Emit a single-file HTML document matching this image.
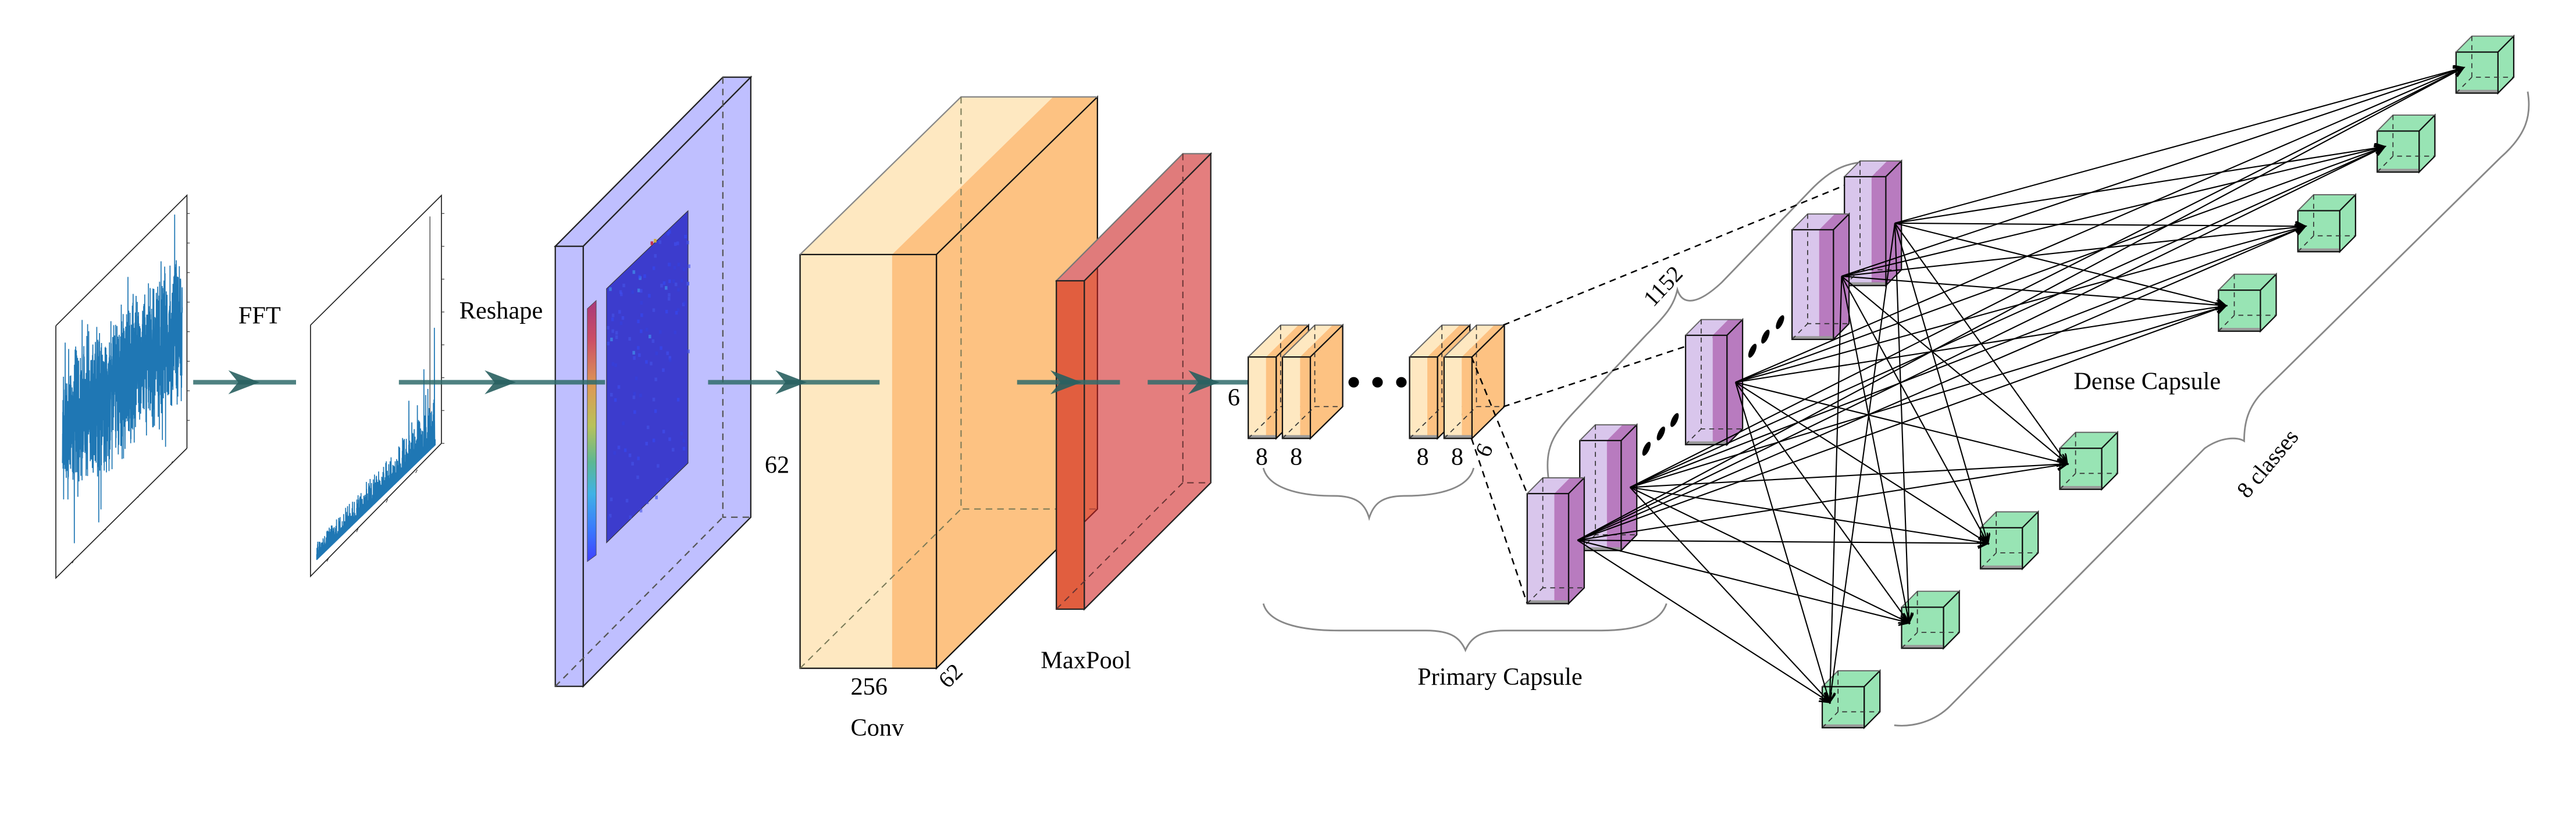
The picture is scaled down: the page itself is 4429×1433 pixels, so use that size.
<!DOCTYPE html>
<html><head><meta charset="utf-8"><style>
html,body{margin:0;padding:0;background:#fff;}
svg{display:block;}
text{font-family:"Liberation Serif",serif;fill:#000;}
</style></head><body>
<svg id="s" xmlns="http://www.w3.org/2000/svg" width="4429" height="1433" viewBox="0 0 1568 507.3" font-family="Liberation Serif, serif">
<defs>
<linearGradient id="cb" x1="0" y1="0" x2="0" y2="1">
<stop offset="0" stop-color="#a8387a"/><stop offset="0.15" stop-color="#cc4e66"/>
<stop offset="0.33" stop-color="#dd9a55"/><stop offset="0.48" stop-color="#b8c25a"/>
<stop offset="0.62" stop-color="#5cb894"/><stop offset="0.74" stop-color="#3fb2e6"/>
<stop offset="0.88" stop-color="#3a78ff"/><stop offset="1" stop-color="#4040ff"/>
</linearGradient>
<marker id="ah" markerUnits="userSpaceOnUse" markerWidth="10" markerHeight="10" refX="6" refY="3" orient="auto">
<path d="M0,0 L6,3 L0,6 M1.5,3 L6,3" fill="none" stroke="#000" stroke-width="1"/>
</marker>
</defs>
<rect width="1568" height="507.3" fill="#fff"/>

<!-- plot 1 -->
<g fill="none" stroke="#222" stroke-width="0.6">
<polyline points="34,198.4 34,352 113.8,273"/>
<polyline points="34,198.4 113.8,118.9 113.8,273"/>
</g>
<path id="sig1" fill="none" stroke="#1f77b4" stroke-width="0.6"/>
<!-- plot 2 -->
<g fill="none" stroke="#222" stroke-width="0.6">
<polyline points="189,198 189,351 268.7,270"/>
<polyline points="189,198 268.7,119 268.7,270"/>
<line x1="261.7" y1="131.8" x2="261.7" y2="270" stroke-width="0.4"/>
</g>
<path id="sig2" fill="none" stroke="#1f77b4" stroke-width="0.6"/>
<g id="ticks" stroke="#333" stroke-width="0.4"></g>

<text x="158" y="197" font-size="15" text-anchor="middle">FFT</text>
<text x="305" y="194" font-size="15" text-anchor="middle">Reshape</text>

<!-- blue slab -->
<g stroke="#222" stroke-width="0.8">
<polygon points="338,150 440,47 457,47 355,150" fill="#bfbfff"/>
<polygon points="355,150 457,47 457,315 355,418" fill="#bfbfff"/>
<rect x="338" y="150" width="17" height="268" fill="#bfbfff"/>
</g>
<polygon points="369.2,175.8 418.8,128.4 418.8,282 369.2,330.5" fill="#3c3ccd" stroke="#333" stroke-width="0.4"/>
<g id="hm"></g>
<polygon points="357.5,188 362.9,183 362.9,338 357.5,342" fill="url(#cb)" stroke="#444" stroke-width="0.3"/>
<g fill="none" stroke="#555" stroke-width="0.8" stroke-dasharray="4,3">
<polyline points="440,47 440,315 457,315"/><line x1="338" y1="418" x2="440" y2="315"/>
</g>

<!-- conv -->
<g stroke-width="0.8">
<polygon points="487,155 585,59 641,59 543,155" fill="#fee8c1" stroke="none"/>
<polygon points="543,155 641,59 668,59 570,155" fill="#fdc282" stroke="none"/>
<polygon points="570,155 668,59 668,310 570,407" fill="#fdc282" stroke="#111"/>
<rect x="487" y="155" width="56" height="252" fill="#fee8c1"/>
<rect x="543" y="155" width="27" height="252" fill="#fdc282"/>
<rect x="487" y="155" width="83" height="252" fill="none" stroke="#111"/>
<polyline points="487,155 585,59 668,59" fill="none" stroke="#888"/>
</g>
<g fill="none" stroke="#775" stroke-width="0.7" stroke-dasharray="4,3">
<polyline points="585,59 585,310 668,310"/><line x1="487" y1="407" x2="585" y2="310"/>
</g>
<text x="473" y="288" font-size="15" text-anchor="middle">62</text>
<text x="529" y="423" font-size="15" text-anchor="middle">256</text>
<text x="579" y="416" font-size="14" text-anchor="middle" transform="rotate(-45 579 412)">62</text>
<text x="534" y="448" font-size="15" text-anchor="middle">Conv</text>

<!-- maxpool -->
<g stroke-width="0.8">
<polygon points="643,171 720,93.6 737,93.6 660,171" fill="#e07b7b" stroke="#777"/>
<polygon points="660,171 737,93.6 737,294 660,371" fill="rgb(210,40,40)" fill-opacity="0.6" stroke="#222"/>
<rect x="643" y="171" width="17" height="200" fill="#e15e3f" stroke="#222"/>
</g>
<g fill="none" stroke="#633" stroke-width="0.7" stroke-dasharray="4,3">
<polyline points="720,93.6 720,294 737,294"/><line x1="643" y1="371" x2="720" y2="294"/>
</g>
<text x="661" y="407" font-size="15" text-anchor="middle">MaxPool</text>

<g id="arrows"></g>

<g id="obox"></g>
<circle cx="824" cy="232.8" r="3.2"/><circle cx="838.5" cy="232.8" r="3.2"/><circle cx="853" cy="232.8" r="3.2"/>
<text x="751" y="247" font-size="15" text-anchor="middle">6</text>
<text x="768" y="283" font-size="15" text-anchor="middle">8</text>
<text x="789" y="283" font-size="15" text-anchor="middle">8</text>
<text x="866" y="283" font-size="15" text-anchor="middle">8</text>
<text x="887" y="283" font-size="15" text-anchor="middle">8</text>
<text x="903" y="279" font-size="14" text-anchor="middle" transform="rotate(-65 903 274)">6</text>
<g fill="none" stroke="#888" stroke-width="1">
<path d="M769,285 C772,297 790,302 812,302 C826,302 831,307 833.4,315.5 C836,307 841,302 855,302 C877,302 894,297 897,285"/>
<path d="M769,367.6 C772,379 790,384 815,384 L868,384 C884,384 889,389 892,396 C895,389 900,384 916,384 L975,384 C998,384 1011,378 1014.4,367.6"/>
<path d="M942.6,291.9 C940,272 946,264 958,251 L1002,204 C1014,192 1019,186 1021,176.4 C1024,186 1033,186 1048,172 L1100,118 C1112,105 1122,99 1136.3,98.6"/>
<path d="M1538.6,55.8 C1541,70 1538,82 1522,96 L1378,238 C1368,248 1366,258 1366,268.6 C1362,266 1352,266 1342,273 L1187,430 C1178,439 1165,443 1153,441.7"/>
</g>
<text x="913" y="417" font-size="15" text-anchor="middle">Primary Capsule</text>
<text x="1307" y="237" font-size="15" text-anchor="middle">Dense Capsule</text>
<text x="1012" y="179" font-size="14" text-anchor="middle" transform="rotate(-47 1012 174)">1152</text>
<text x="1380" y="287" font-size="14" text-anchor="middle" transform="rotate(-50 1380 282)">8 classes</text>

<g fill="none" stroke="#000" stroke-width="0.9" stroke-dasharray="4,3">
<line x1="915" y1="198" x2="1149.8" y2="101.8"/>
<line x1="915" y1="247.7" x2="1044" y2="205"/>
<line x1="895.7" y1="217.4" x2="929.6" y2="300.6"/>
<line x1="895.7" y1="267" x2="929.6" y2="367.6"/>
</g>

<g id="caps"></g>
<g id="dots">
<ellipse cx="1002.2" cy="273.3" rx="1.8" ry="4.6" transform="rotate(25 1002.2 273.3)"/>
<ellipse cx="1011" cy="264" rx="1.8" ry="4.6" transform="rotate(25 1011 264)"/>
<ellipse cx="1019.3" cy="255.8" rx="1.8" ry="4.6" transform="rotate(25 1019.3 255.8)"/>
<ellipse cx="1066.7" cy="213.6" rx="1.8" ry="4.6" transform="rotate(25 1066.7 213.6)"/>
<ellipse cx="1074.6" cy="205" rx="1.8" ry="4.6" transform="rotate(25 1074.6 205)"/>
<ellipse cx="1083.5" cy="196.2" rx="1.8" ry="4.6" transform="rotate(25 1083.5 196.2)"/>
</g>
<g id="cubes"></g>
<g id="lines" stroke="#000" stroke-width="0.75" fill="none"></g>
</svg>
<script>
var NS="http://www.w3.org/2000/svg";
function el(p,t,a){var e=document.createElementNS(NS,t);for(var k in a)e.setAttribute(k,a[k]);p.appendChild(e);return e;}
var seed=12345;function rnd(){seed=(seed*1103515245+12345)%2147483648;return seed/2147483648;}
function pts(a){return a.map(function(p){return p[0].toFixed(2)+","+p[1].toFixed(2)}).join(" ");}
// signal 1 - dense band
var d="",n=1400;
for(var i=0;i<n;i++){var t=i/n,x=38+t*73,c=262-62*t;var g=(rnd()+rnd()+rnd()+rnd()-2)*34;if(rnd()<0.06)g*=1.8;
var y=c+g;var top=198.4-(x-34)*(79.5/79.8)+12,bot=352-(x-34)*(79/79.8)-8;if(y<top)y=top+rnd()*6;if(y>bot)y=bot-rnd()*6;
d+=(i?"L":"M")+x.toFixed(2)+","+y.toFixed(2);}
document.getElementById("sig1").setAttribute("d",d);
// signal 2
d="";n=600;
for(var i=0;i<n;i++){var t=i/n,x=192.8+t*72.2,b=339.5-t*70;var r=rnd();var h=2+Math.pow(r,3)*12*(0.6+t*1.5);
if(t>0.75&&rnd()<0.05)h+=rnd()*40;if(t>0.9&&rnd()<0.04)h+=40+rnd()*30;
d+=(i?"L":"M")+x.toFixed(2)+","+(b+1.5).toFixed(2)+"L"+x.toFixed(2)+","+(b-h).toFixed(2);}
document.getElementById("sig2").setAttribute("d",d);
var tk=document.getElementById("ticks");
for(var i=0;i<8;i++){el(tk,"line",{x1:113.8,y1:130+i*18,x2:115.5,y2:130+i*18});el(tk,"line",{x1:268.7,y1:130+i*20,x2:270.5,y2:130+i*20});
el(tk,"line",{x1:418.8,y1:135+i*17,x2:420.5,y2:135+i*17});}
for(var i=0;i<4;i++){var x=45+i*20,y=341-i*20;el(tk,"line",{x1:x,y1:y,x2:x-1,y2:y+2});x=200+i*18;y=340-i*18;el(tk,"line",{x1:x,y1:y,x2:x-1,y2:y+2});}
var hm=document.getElementById("hm");var cols=["#3f4ff0","#3448f5","#4454e8","#3340dd","#3fa0f0"];
for(var i=0;i<120;i++){var u=rnd(),v=rnd();var yy=(i<40)?v*0.35:v;var x=369.2+u*49.6,y=175.8-u*47.4+yy*154.7;
var c=cols[Math.floor(rnd()*4)];if(i<8)c=cols[4];el(hm,"rect",{x:x.toFixed(2),y:y.toFixed(2),width:1.6,height:2.2,fill:c,opacity:0.6});}
el(hm,"rect",{x:396,y:147,width:1.6,height:2.2,fill:"#c03050"});el(hm,"rect",{x:398,y:145.5,width:1.6,height:2.2,fill:"#d0b040"});
var ar=document.getElementById("arrows");
[[117.6,180.2,139],[242.8,368.3,295],[431,535.4,472],[619.1,681.7,639.4],[698.6,769.5,723.3]].forEach(function(a){
el(ar,"line",{x1:a[0],y1:232.8,x2:a[1],y2:232.8,stroke:"#2f6b6b","stroke-width":2.8,"stroke-opacity":0.85});
var h=a[2];el(ar,"polygon",{points:pts([[h,225.5],[h+19,232.8],[h,240.1],[h+6,232.8]]),fill:"#285f5f","fill-opacity":0.9});});
function prism(g,x,y,w,h,dx,dy,s,pale,dark){
if(s>0){el(g,"polygon",{points:pts([[x,y],[x+dx,y+dy],[x+s+dx,y+dy],[x+s,y]]),fill:pale,stroke:"none"});
el(g,"polygon",{points:pts([[x+s,y],[x+s+dx,y+dy],[x+w+dx,y+dy],[x+w,y]]),fill:dark,stroke:"none"});}
else el(g,"polygon",{points:pts([[x,y],[x+dx,y+dy],[x+w+dx,y+dy],[x+w,y]]),fill:pale,stroke:"none"});
el(g,"polygon",{points:pts([[x+w,y],[x+w+dx,y+dy],[x+w+dx,y+h+dy],[x+w,y+h]]),fill:dark,stroke:"#111","stroke-width":0.8});
if(s>0){el(g,"rect",{x:x,y:y,width:s,height:h,fill:pale});el(g,"rect",{x:x+s,y:y,width:w-s,height:h,fill:dark});}
else el(g,"rect",{x:x,y:y,width:w,height:h,fill:pale});
el(g,"rect",{x:x+w*0.02,y:y+h-2,width:w*0.96,height:1.6,fill:"#999"});
el(g,"rect",{x:x,y:y,width:w,height:h,fill:"none",stroke:"#111","stroke-width":0.8});
el(g,"polyline",{points:pts([[x,y],[x+dx,y+dy],[x+w+dx,y+dy]]),fill:"none",stroke:"#666","stroke-width":0.7});
el(g,"polyline",{points:pts([[x+dx,y+dy],[x+dx,y+h+dy],[x+w+dx,y+h+dy]]),fill:"none",stroke:"#333","stroke-width":0.6,"stroke-dasharray":"3,2.5"});
el(g,"line",{x1:x,y1:y+h,x2:x+dx,y2:y+h+dy,stroke:"#333","stroke-width":0.6,"stroke-dasharray":"3,2.5"});}
var ob=document.getElementById("obox");
[759.8,780.6,858,879].forEach(function(x){prism(ob,x,217.4,17,49.6,19.7,-19.4,10.8,"#fee8c1","#fdc282");});
var cp=document.getElementById("caps");
[[1122.7,107.6,66.3],[1090.8,139.9,66.8],[1026,204.2,66.6],[961.6,268.3,67],[929.6,300.6,67]].forEach(function(c){
prism(cp,c[0],c[1],25.2,c[2],9.5,-9.6,16.5,"#d9c6ec","#b87bbf");});
var cb=document.getElementById("cubes");
var cubes=[[1495,31.7],[1447,79.8],[1398.7,128.3],[1350.4,176.7],[1253.8,273],[1205.5,321.4],[1157.5,369.8],[1109.2,418.2]];
cubes.forEach(function(c){prism(cb,c[0],c[1],25.5,25,9.6,-9.7,0,"#98e4b4","#98e4b4");});
var src=[[960.2,329],[992.2,296.8],[1056.4,232.8],[1121,168.2],[1153.4,135.9]];
var ln=document.getElementById("lines");
src.forEach(function(s){cubes.forEach(function(c){el(ln,"line",{x1:s[0],y1:s[1],x2:c[0]+4.5,y2:c[1]+9.5,"marker-end":"url(#ah)"});});});
</script>
</body></html>
